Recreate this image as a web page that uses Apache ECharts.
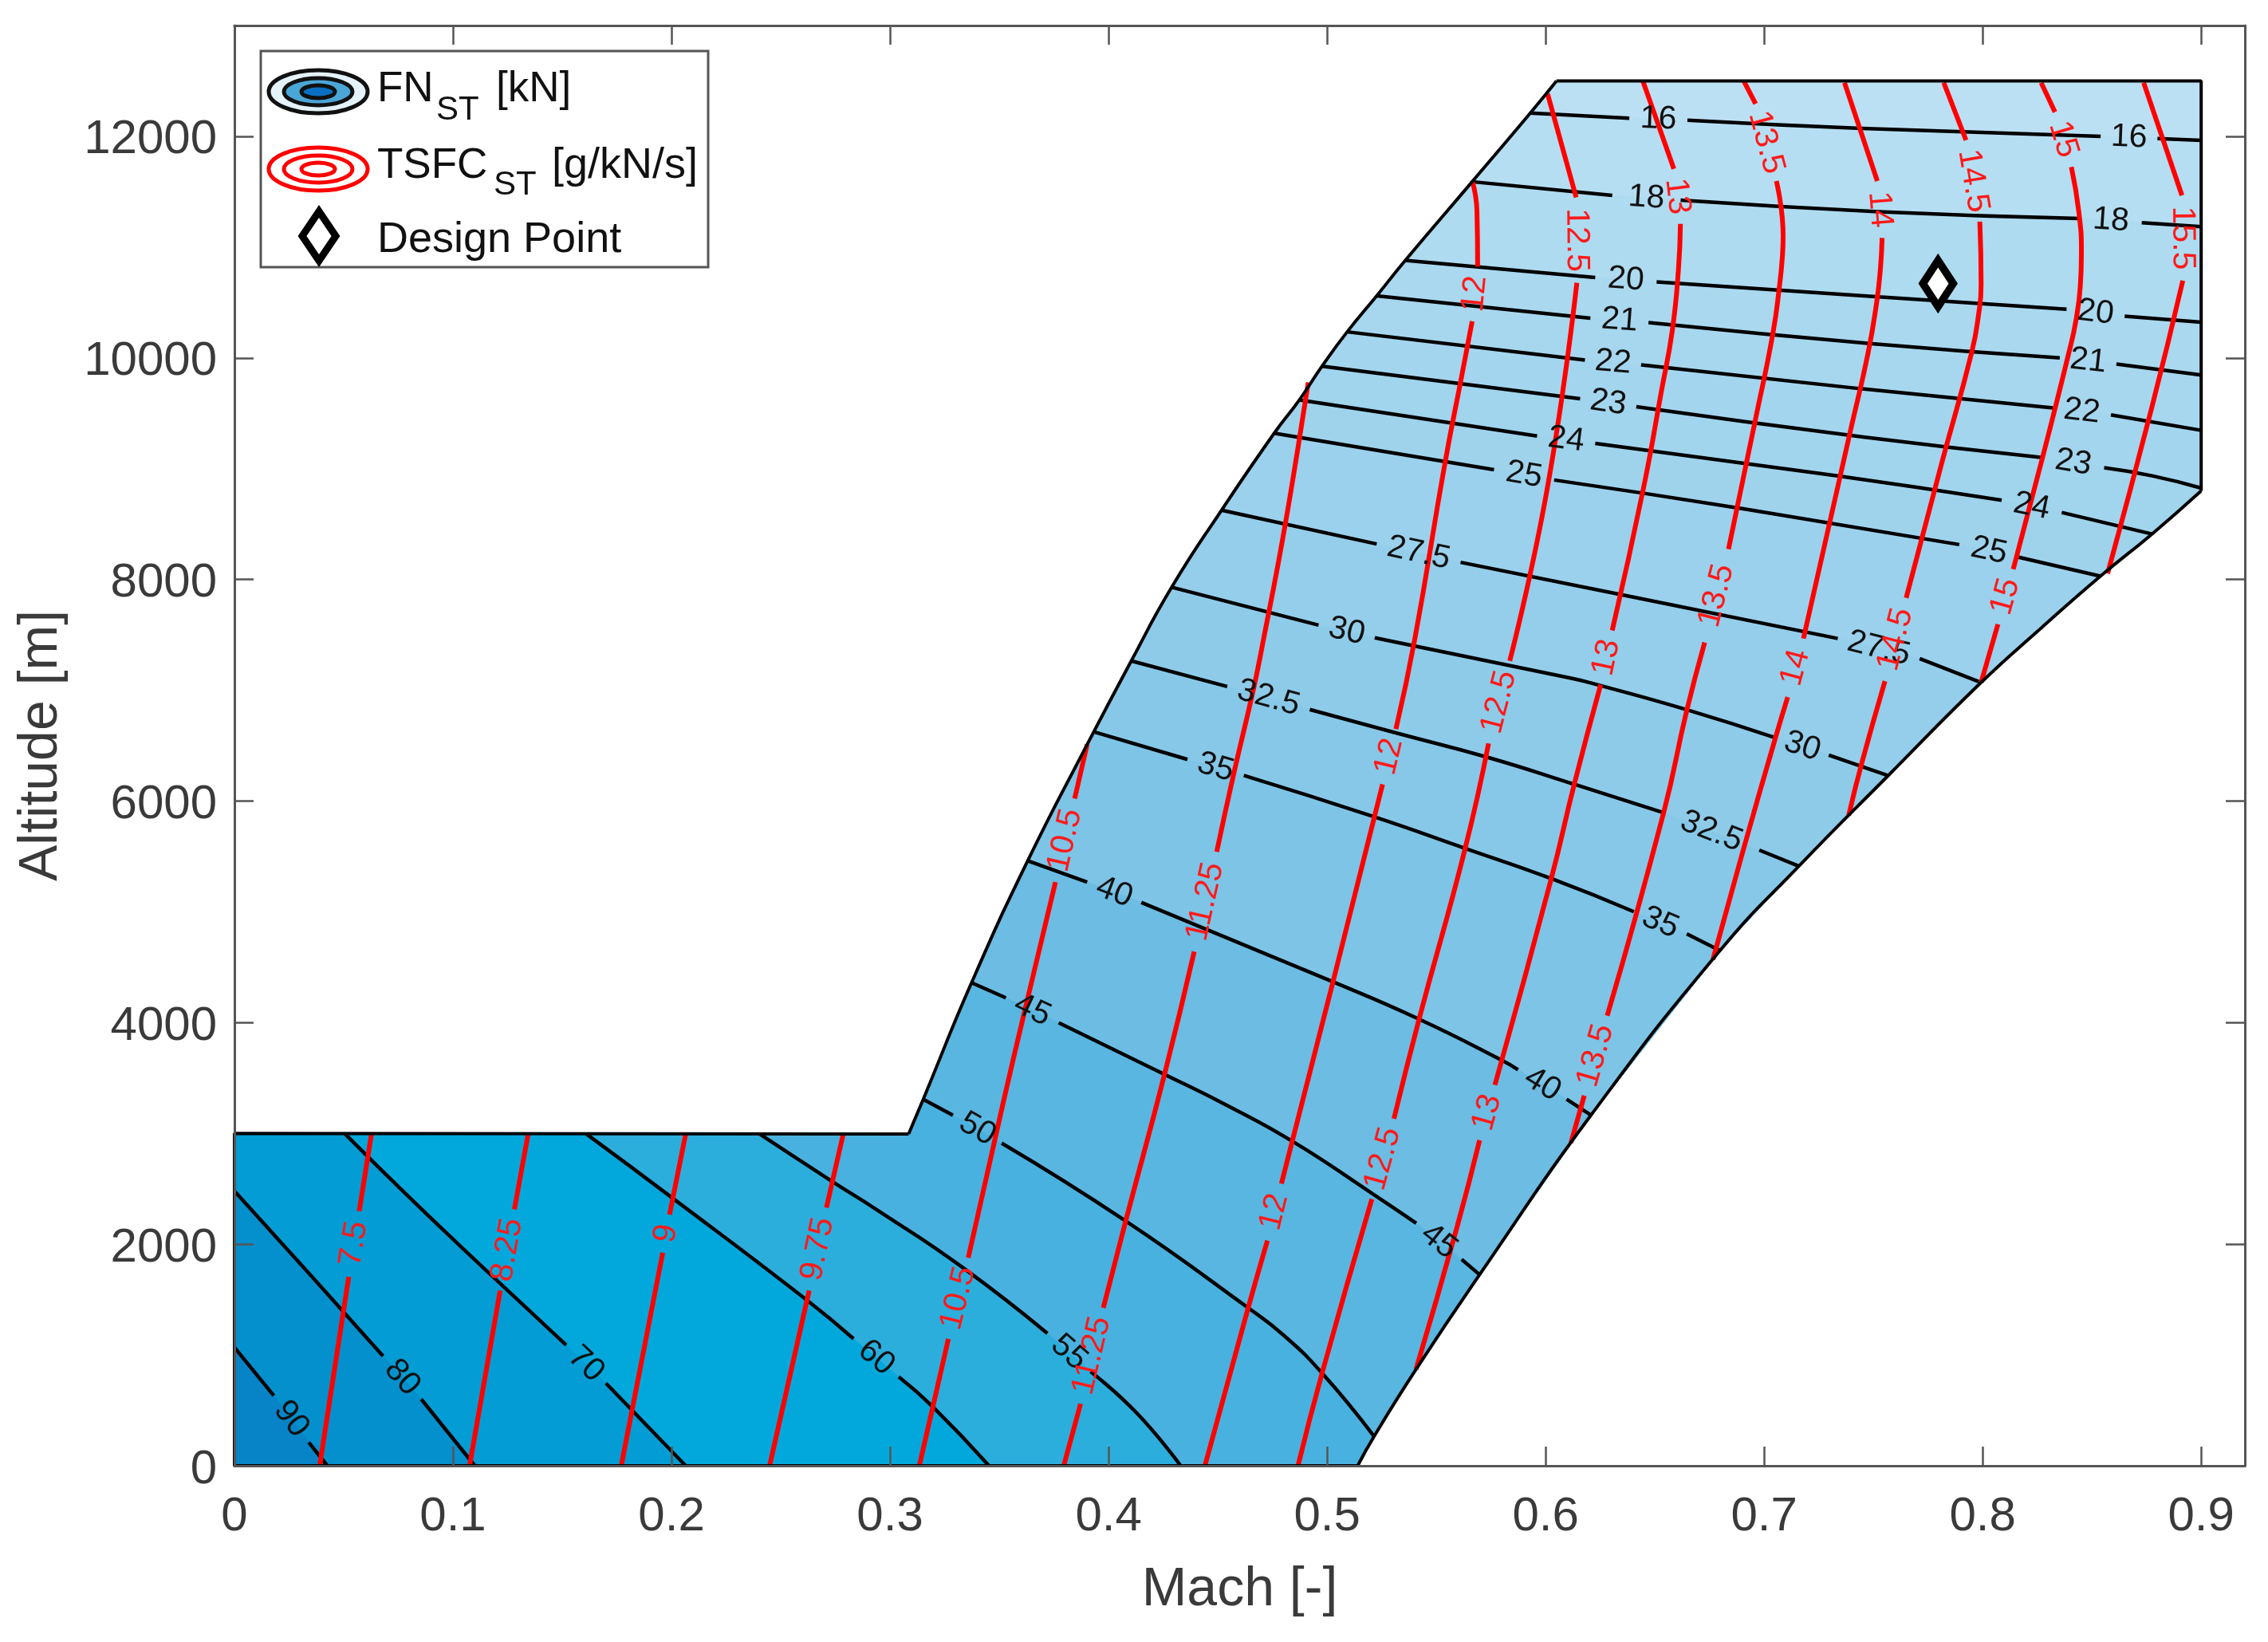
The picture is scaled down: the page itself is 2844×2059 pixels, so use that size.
<!DOCTYPE html>
<html>
<head>
<meta charset="utf-8">
<style>html,body{margin:0;padding:0;background:#fff}#chart{width:2844px;height:2059px}</style>
<script src="https://cdn.jsdelivr.net/npm/echarts@6/dist/echarts.min.js"></script>
</head>
<body>
<div id="chart"></div>
<script>
// axis ticks
var machMax = 0.92, machStep = 0.1;
var altMax = 13000, altStep = 2000;

// flight envelope, clockwise from the origin [Mach, altitude]
var envBase = [[0.514,0],[0,0],[0,3000],[0.3085,2995]];
var envLeft = [[0.3085,2995],[0.3152,3308],[0.3373,4360],[0.363,5460],[0.3902,6510],[0.4104,7265],[0.4289,7930],[0.4517,8625],[0.4758,9320],[0.4873,9620],[0.4977,9925],[0.5092,10235],[0.5227,10560],[0.5358,10880],[0.5664,11590],[0.593,12210],[0.605,12500]];
var envTop = [[0.605,12500],[0.9,12500],[0.9,8800]];
var envRight = [[0.9,8800],[0.8775,8410],[0.8539,8030],[0.827,7565],[0.7993,7070],[0.7568,6230],[0.7159,5412],[0.6798,4650],[0.6208,3165],[0.5698,1725],[0.5407,870],[0.5215,265],[0.514,0]];
var envelope = [[0,0],[0,3000]].concat(envLeft, envTop.slice(1), envRight.slice(1));

// thrust contours, null = gap with a label in it
var fn16 = [[0.593,12210],[0.6383,12164],null,[0.6649,12146],[0.7446,12072],[0.854,11999],null,[0.88,11980],[0.9,11963]];
var fn18 = [[0.5664,11590],[0.6305,11467],null,[0.6618,11423],[0.7524,11320],[0.8446,11258],null,[0.8728,11221],[0.9,11184]];
var fn20 = [[0.5358,10880],[0.6227,10726],null,[0.6508,10686],[0.7524,10550],[0.8384,10440],null,[0.865,10377],[0.9,10322]];
var fn21 = [[0.5227,10560],[0.6205,10358],null,[0.6471,10318],[0.7493,10128],[0.8353,10000],null,[0.8612,9944],[0.9,9845]];
var fn22 = [[0.5092,10235],[0.618,9981],null,[0.6437,9937],[0.743,9724],[0.8321,9548],null,[0.8587,9486],[0.9,9346]];
var fn23 = [[0.4977,9925],[0.6158,9632],null,[0.6415,9559],[0.7461,9284],[0.8274,9101],null,[0.8556,9009],[0.8775,8936],[0.9,8825]];
var fn24 = [[0.4873,9620],[0.5961,9295],null,[0.6227,9228],[0.7337,8935],[0.8087,8715],null,[0.8362,8605],[0.8775,8410]];
var fn25 = [[0.4758,9320],[0.5764,8990],null,[0.6039,8898],[0.6899,8640],[0.7893,8315],null,[0.8165,8201],[0.8539,8030]];
var fn275 = [[0.4517,8625],[0.5227,8320],null,[0.5611,8155],[0.6352,7860],[0.7337,7467],null,[0.7712,7285],[0.7993,7070]];
var fn30 = [[0.4289,7930],[0.4961,7588],null,[0.5218,7474],[0.6118,7108],[0.6237,7050],[0.6645,6825],[0.7054,6570],null,[0.7296,6415],[0.7568,6230]];
var fn325 = [[0.4104,7265],[0.4543,7034],null,[0.4921,6826],[0.5315,6615],[0.5739,6392],[0.6131,6151],[0.654,5894],null,[0.6978,5557],[0.7159,5412]];
var fn35 = [[0.3932,6625],[0.4361,6376],null,[0.4619,6231],[0.5209,5862],[0.5632,5573],[0.6026,5300],[0.6404,5001],null,[0.6646,4802],[0.6798,4650]];
var fn40 = [[0.363,5460],[0.3902,5268],null,[0.415,5085],[0.5027,4368],[0.5421,4031],[0.5798,3662],[0.5874,3575],null,[0.6096,3308],[0.6208,3165]];
var fn45 = [[0.3373,4360],[0.353,4224],null,[0.3772,3999],[0.4256,3533],[0.455,3245],[0.4846,2923],[0.5209,2454],[0.5408,2189],null,[0.5616,1862],[0.5698,1725]];
var fn50 = [[0.3152,3308],[0.3288,3164],null,[0.3511,2912],[0.408,2207],[0.4639,1425],[0.4802,1177],[0.4977,836],[0.5215,265]];
var fn55 = [[0.2403,2995],[0.274,2560],[0.294,2310],[0.3325,1800],[0.372,1195],null,[0.3918,850],[0.4127,480],[0.433,0]];
var fn60 = [[0.161,2995],[0.2,2423],[0.2624,1488],[0.2833,1146],null,[0.304,803],[0.3197,530],[0.3453,0]];
var fn70 = [[0.0506,2995],[0.082,2385],[0.117,1730],[0.1518,1090],null,[0.17,745],[0.2065,0]];
var fn80 = [[0,2479],[0.0355,1706],[0.068,990],null,[0.0855,601],[0.11,0]];
var fn90 = [[0,1068],[0.018,632],null,[0.034,212],[0.0425,0]];
var fnLevels = ['16','18','20','21','22','23','24','25','27.5','30','32.5','35','40','45','50','55','60','70','80','90'];
var fnLines = [fn16,fn18,fn20,fn21,fn22,fn23,fn24,fn25,fn275,fn30,fn325,fn35,fn40,fn45,fn50,fn55,fn60,fn70,fn80,fn90];

// TSFC contours
var tsfc75 = [[0.0627,2995],[0.0571,2298],null,[0.0523,1706],[0.039,0]];
var tsfc825 = [[0.1344,2995],[0.1281,2314],null,[0.1216,1582],[0.1076,0]];
var tsfc9 = [[0.2065,2995],[0.1991,2267],null,[0.196,1924],[0.177,0]];
var tsfc975 = [[0.2786,2995],[0.2709,2329],null,[0.263,1582],[0.2449,0]];
var tsfc105 = [[0.3902,6510],[0.3845,6022],null,[0.3757,5268],[0.3615,4095],[0.352,3295],[0.3358,1878],null,[0.3267,1146],[0.3197,540],[0.3134,0]];
var tsfc1125 = [[0.4914,9779],[0.4867,9191],[0.4795,8347],[0.471,7468],[0.4664,7018],[0.4573,6247],[0.4495,5541],null,[0.4392,4641],[0.4256,3533],[0.408,2220],[0.3976,1426],null,[0.3872,560],[0.3795,0]];
var tsfc12 = [[0.5664,11600],[0.5686,11320],[0.5689,10825],null,[0.5664,10330],[0.5614,9815],[0.5539,9045],[0.5402,7468],[0.5315,6649],null,[0.5254,6151],[0.5027,4368],[0.4791,2547],null,[0.4727,2033],[0.4639,1426],[0.4441,0]];
var tsfc125 = [[0.6009,12384],[0.614,11449],null,[0.6143,10678],[0.6008,8825],[0.5836,7265],null,[0.5739,6520],[0.5632,5573],[0.5421,4031],[0.5306,3132],null,[0.5205,2407],[0.4977,835],[0.4867,0]];
var tsfc13 = [[0.6446,12495],[0.6587,11706],null,[0.6617,11210],[0.6608,10800],[0.658,10250],[0.653,9700],[0.6448,8825],[0.6305,7540],null,[0.6252,7050],[0.6131,6151],[0.6026,5300],[0.5768,3437],null,[0.5698,2939],[0.5593,2142],[0.5407,870]];
var tsfc135 = [[0.6908,12495],[0.6961,12293],null,[0.7056,11596],[0.7087,11100],[0.7083,10900],[0.7071,10660],[0.704,10219],[0.6961,9450],[0.6837,8274],null,[0.6728,7431],[0.6645,6809],[0.654,5894],[0.6282,4063],null,[0.6177,3341],[0.6116,2915]];
var tsfc14 = [[0.7368,12484],[0.7518,11596],null,[0.754,11082],[0.7532,10800],[0.7515,10500],[0.7475,10037],[0.7399,9376],[0.718,7467],null,[0.7108,6938],[0.7054,6585],[0.6902,5541],[0.6766,4570]];
var tsfc145 = [[0.7822,12484],[0.7924,11965],null,[0.7987,11230],[0.7993,10660],[0.7982,10400],[0.795,10050],[0.7812,9045],[0.765,7834],null,[0.7553,7082],[0.7447,6343],[0.7387,5870]];
var tsfc15 = [[0.8268,12484],[0.8331,12219],null,[0.8406,11724],[0.844,11320],[0.8452,10950],[0.8447,10650],[0.8428,10350],[0.8395,10050],[0.8274,9101],[0.814,8092],null,[0.807,7596],[0.7993,7070]];
var tsfc155 = [[0.8737,12484],[0.8912,11467],null,[0.8916,10697],[0.8775,9559],[0.8572,8054]];
var tsfcLevels = ['7.5','8.25','9','9.75','10.5','11.25','12','12.5','13','13.5','14','14.5','15','15.5'];
var tsfcLines = [tsfc75,tsfc825,tsfc9,tsfc975,tsfc105,tsfc1125,tsfc12,tsfc125,tsfc13,tsfc135,tsfc14,tsfc145,tsfc15,tsfc155];

var designPoint = [[0.7796,10671]];

// band colours: first is the whole envelope, then one per thrust level
var bandColors = ['#bce0f3','#b5def2','#aedbf0','#a9d8ef','#a7d7ee','#a4d5ee','#a1d4ed','#9fd3ec','#9bd1ec','#94ceea','#8ecbe9','#87c8e8','#7dc4e6','#6cbce3','#59b6e0','#49b1df','#2caedc','#02a8dc','#039cd4','#048fcd','#0684c7'];

var FONT = '"Liberation Sans", Arial, sans-serif';
var TEXT_COLOR = '#3a3a3a';

// split a contour at its gaps
function pieces(line){
	var out = [], cur = [];
	for(var i = 0; i < line.length; i++){
		if(line[i] == null){
			out.push(cur);
			cur = [];
		}else{
			cur.push(line[i]);
		}
	}
	out.push(cur);
	return out;
}

// index of the envelope segment a contour end sits on
function nearestSeg(p){
	var best = 0, bestD = Infinity, n = envelope.length;
	for(var i = 0; i < n; i++){
		var a = envelope[i], b = envelope[(i + 1) % n];
		var ax = a[0] / machMax, ay = a[1] / altMax, bx = b[0] / machMax, by = b[1] / altMax;
		var px = p[0] / machMax, py = p[1] / altMax;
		var dx = bx - ax, dy = by - ay;
		var t = ((px - ax) * dx + (py - ay) * dy) / (dx * dx + dy * dy);
		t = Math.max(0, Math.min(1, t));
		var qx = ax + t * dx - px, qy = ay + t * dy - py;
		var d = qx * qx + qy * qy;
		if(d < bestD){
			bestD = d;
			best = i;
		}
	}
	return best;
}

// region on the high thrust side of a contour: the contour, then the envelope back round to its start
function bandPolygon(line){
	var pts = line.filter(function(p){ return p != null; });
	var n = envelope.length;
	var j = nearestSeg(pts[pts.length - 1]), k = nearestSeg(pts[0]);
	var idx = (j + 1) % n;
	while(true){
		pts.push(envelope[idx]);
		if(idx == k){
			break;
		}
		idx = (idx + 1) % n;
	}
	return pts;
}

var polygons = [envelope];
for(var i = 0; i < fnLines.length; i++){
	polygons.push(bandPolygon(fnLines[i]));
}

var series = [];
series.push({
	type: 'custom',
	coordinateSystem: 'cartesian2d',
	silent: true,
	z: 1,
	data: polygons.map(function(p, i){ return [i]; }),
	renderItem: function(params, api){
		var i = api.value(0);
		return {
			type: 'polygon',
			shape: {points: polygons[i].map(function(p){ return api.coord(p); })},
			style: {fill: bandColors[i], stroke: bandColors[i], lineWidth: 1}
		};
	}
});

function addLine(data, smooth, color, width, z){
	series.push({
		type: 'line',
		data: data,
		smooth: smooth,
		showSymbol: false,
		silent: true,
		z: z,
		lineStyle: {color: color, width: width, cap: 'butt'}
	});
}
function addLines(lines, color, width, z){
	for(var i = 0; i < lines.length; i++){
		pieces(lines[i]).forEach(function(piece){
			addLine(piece, 0.5, color, width, z);
		});
	}
}
addLines(fnLines, '#000', 4.5, 2);
addLines(tsfcLines, '#ff0000', 6, 3);

// envelope outline
addLine(envBase, false, '#000', 4, 4);
addLine(envLeft, 0.5, '#000', 4, 4);
addLine(envTop, false, '#000', 4, 4);
addLine(envRight, 0.5, '#000', 4, 4);

// labels sit in the gaps and follow the gap direction
function gapLabels(lines, levels){
	var out = [];
	for(var i = 0; i < lines.length; i++){
		for(var j = 1; j < lines[i].length - 1; j++){
			if(lines[i][j] == null){
				out.push({text: levels[i], a: lines[i][j - 1], b: lines[i][j + 1]});
			}
		}
	}
	return out;
}
function addLabels(lines, levels, color, z){
	var labels = gapLabels(lines, levels);
	series.push({
		type: 'custom',
		coordinateSystem: 'cartesian2d',
		silent: true,
		z: z,
		data: labels.map(function(l, i){ return [i]; }),
		renderItem: function(params, api){
			var l = labels[api.value(0)];
			var a = api.coord(l.a), b = api.coord(l.b);
			var ang = Math.atan2(a[1] - b[1], b[0] - a[0]);
			if(ang > Math.PI / 2){
				ang -= Math.PI;
			}else if(ang < -Math.PI / 2){
				ang += Math.PI;
			}
			return {
				type: 'text',
				x: (a[0] + b[0]) / 2,
				y: (a[1] + b[1]) / 2,
				rotation: ang,
				style: {text: l.text, fill: color, font: '41px ' + FONT, align: 'center', verticalAlign: 'middle'}
			};
		}
	});
}
addLabels(fnLines, fnLevels, '#111', 5);
addLabels(tsfcLines, tsfcLevels, '#ff1a1a', 6);

series.push({
	type: 'scatter',
	data: designPoint,
	symbol: 'diamond',
	symbolSize: [38, 58],
	silent: true,
	z: 7,
	itemStyle: {color: '#fff', borderColor: '#000', borderWidth: 10, opacity: 1}
});

function axisBase(pos, show){
	return {
		type: 'value',
		position: pos,
		min: 0,
		z: 8,
		axisLine: {show: true, onZero: false, lineStyle: {color: '#555', width: 3}},
		axisTick: {show: true, inside: true, length: 24, lineStyle: {color: '#555', width: 2.5}},
		splitLine: {show: false},
		axisLabel: {
			show: show,
			color: TEXT_COLOR,
			fontSize: 60,
			fontFamily: FONT,
			showMaxLabel: false,
			formatter: function(v){ return String(v); }
		}
	};
}
var xMain = axisBase('bottom', true);
xMain.max = machMax;
xMain.interval = machStep;
xMain.name = 'Mach [-]';
xMain.nameLocation = 'middle';
xMain.nameGap = 122;
xMain.nameTextStyle = {color: TEXT_COLOR, fontSize: 68, fontFamily: FONT};
xMain.axisLabel.margin = 34;
var xTop = axisBase('top', false);
xTop.max = machMax;
xTop.interval = machStep;
var yMain = axisBase('left', true);
yMain.max = altMax;
yMain.interval = altStep;
yMain.name = 'Altitude [m]';
yMain.nameLocation = 'middle';
yMain.nameGap = 208;
yMain.nameTextStyle = {color: TEXT_COLOR, fontSize: 68, fontFamily: FONT};
yMain.axisLabel.margin = 22;
// tick numbers sit a little under their tick
yMain.axisLabel.formatter = function(v){ return '{a|' + v + '}'; };
yMain.axisLabel.rich = {a: {color: TEXT_COLOR, fontSize: 60, fontFamily: FONT, padding: [10, 0, 0, 0]}};
var yRight = axisBase('right', false);
yRight.max = altMax;
yRight.interval = altStep;

function legendText(text, x, y, size){
	return {type: 'text', x: x, y: y, z: 100, style: {text: text, fill: '#111', font: size + 'px ' + FONT, align: 'left', verticalAlign: 'middle'}};
}
function legendRing(cy, rx, ry, fill, stroke){
	return {type: 'ellipse', z: 100, shape: {cx: 399, cy: cy, rx: rx, ry: ry}, style: {fill: fill, stroke: stroke, lineWidth: 5}};
}

var chart = echarts.init(document.getElementById('chart'));
chart.setOption({
	animation: false,
	backgroundColor: '#fff',
	grid: {left: 294, right: 29, top: 32, bottom: 221},
	xAxis: [xMain, xTop],
	yAxis: [yMain, yRight],
	series: series,
	graphic: [
		{type: 'rect', z: 99, shape: {x: 327, y: 64, width: 561, height: 271}, style: {fill: '#fff', stroke: '#555', lineWidth: 3}},
		legendRing(115, 62, 27, '#e4f2fa', '#111'),
		legendRing(115, 43, 17, '#4ba6d8', '#111'),
		legendRing(115, 21, 8, '#0a6fc2', '#111'),
		legendRing(212, 62, 27, '#fff', '#ff0000'),
		legendRing(212, 43, 17, '#fff', '#ff0000'),
		legendRing(212, 21, 8, '#fff', '#ff0000'),
		{type: 'polygon', z: 100, shape: {points: [[400, 265], [421, 296], [400, 327], [379, 296]]}, style: {fill: '#fff', stroke: '#000', lineWidth: 9}},
		legendText('FN', 473, 112, 53),
		legendText('ST', 547, 138, 42),
		legendText('[kN]', 622, 112, 53),
		legendText('TSFC', 473, 208, 53),
		legendText('ST', 619, 232, 42),
		legendText('[g/kN/s]', 692, 208, 54),
		legendText('Design Point', 473, 301, 54)
	]
});
</script>
</body>
</html>
